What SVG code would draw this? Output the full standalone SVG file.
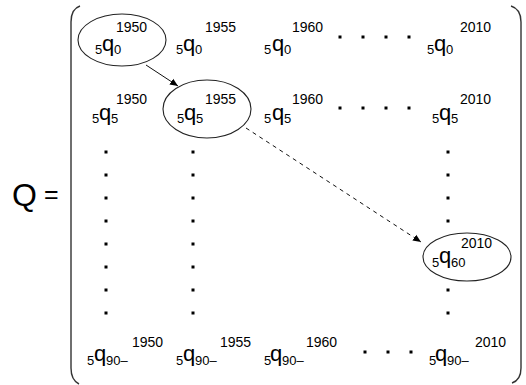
<svg xmlns="http://www.w3.org/2000/svg" width="526" height="385" viewBox="0 0 526 385">
  <style>
    text { font-family: "Liberation Sans", Arial, sans-serif; fill: #000; }
    .q { font-size: 22px; }
    .sb { font-size: 13px; }
    .sp { font-size: 14px; }
    .big { font-size: 32px; }
    .eq { font-size: 25px; }
    .ring { fill: none; stroke: #222; stroke-width: 1.1; }
    .brk { fill: none; stroke: #333; stroke-width: 1.4; }
    .edge { fill: none; stroke: #111; stroke-width: 1; }
    .dash { stroke-dasharray: 4 4; }
    .dot { fill: #000; }
  </style>
  <defs>
    <marker id="head" markerWidth="9" markerHeight="8" refX="8" refY="4" orient="auto" markerUnits="userSpaceOnUse">
      <path d="M0,0.5 L8,4 L0,7.5 z" fill="#000"/>
    </marker>
    <rect id="d" x="-1.5" y="-1.5" width="3" height="3" class="dot"/>
  </defs>

  <rect width="526" height="385" fill="#fff"/>

  <!-- Q = -->
  <text class="big" x="12" y="206">Q</text>
  <text class="eq" x="44" y="203">=</text>

  <!-- matrix brackets -->
  <path class="brk" d="M80,6 Q71,9 71,22 L71,368 Q71,380 79,384"/>
  <path class="brk" d="M511,6 Q521,9 521,22 L521,368 Q521,380 512,383"/>

  <!-- row 0 -->
  <g id="q0_1950">
    <ellipse class="ring" cx="122" cy="40" rx="44" ry="26"/>
    <text class="sb" x="95" y="54">5</text><text class="q" x="102" y="51">q</text><text class="sb" x="114" y="54">0</text><text class="sp" x="116" y="32">1950</text>
  </g>
  <g id="q0_1955">
    <text class="sb" x="176" y="54">5</text><text class="q" x="183" y="51">q</text><text class="sb" x="195" y="54">0</text><text class="sp" x="205" y="32">1955</text>
  </g>
  <g id="q0_1960">
    <text class="sb" x="264" y="54">5</text><text class="q" x="272" y="51">q</text><text class="sb" x="284" y="54">0</text><text class="sp" x="292" y="32">1960</text>
  </g>
  <g id="q0_2010">
    <text class="sb" x="427" y="54">5</text><text class="q" x="434" y="51">q</text><text class="sb" x="446" y="54">0</text><text class="sp" x="460" y="32">2010</text>
  </g>
  <g id="row0_dots">
    <use href="#d" x="340" y="37"/><use href="#d" x="363" y="37"/><use href="#d" x="386" y="37"/><use href="#d" x="409" y="37"/>
  </g>

  <!-- row 5 -->
  <g id="q5_1950">
    <text class="sb" x="92" y="123">5</text><text class="q" x="99" y="120">q</text><text class="sb" x="111" y="123">5</text><text class="sp" x="116" y="104">1950</text>
  </g>
  <g id="q5_1955">
    <ellipse class="ring" cx="207" cy="109" rx="44" ry="29"/>
    <text class="sb" x="177" y="123">5</text><text class="q" x="184" y="120">q</text><text class="sb" x="196" y="123">5</text><text class="sp" x="205" y="104">1955</text>
  </g>
  <g id="q5_1960">
    <text class="sb" x="264" y="123">5</text><text class="q" x="272" y="120">q</text><text class="sb" x="284" y="123">5</text><text class="sp" x="292" y="104">1960</text>
  </g>
  <g id="q5_2010">
    <text class="sb" x="432" y="123">5</text><text class="q" x="439" y="120">q</text><text class="sb" x="451" y="123">5</text><text class="sp" x="460" y="104">2010</text>
  </g>
  <g id="row5_dots">
    <use href="#d" x="340" y="108"/><use href="#d" x="363" y="108"/><use href="#d" x="386" y="108"/><use href="#d" x="409" y="108"/>
  </g>

  <!-- column dots -->
  <g id="col1950_dots">
    <use href="#d" x="106" y="152"/><use href="#d" x="106" y="175"/><use href="#d" x="106" y="198"/><use href="#d" x="106" y="221"/>
    <use href="#d" x="106" y="244"/><use href="#d" x="106" y="267"/><use href="#d" x="106" y="290"/><use href="#d" x="106" y="313"/>
  </g>
  <g id="col1955_dots">
    <use href="#d" x="193" y="152"/><use href="#d" x="193" y="175"/><use href="#d" x="193" y="198"/><use href="#d" x="193" y="221"/>
    <use href="#d" x="193" y="244"/><use href="#d" x="193" y="267"/><use href="#d" x="193" y="290"/><use href="#d" x="193" y="313"/>
  </g>
  <g id="col2010_dots">
    <use href="#d" x="448" y="152"/><use href="#d" x="448" y="175"/><use href="#d" x="448" y="198"/><use href="#d" x="448" y="221"/>
    <use href="#d" x="448" y="290"/><use href="#d" x="448" y="313"/>
  </g>

  <!-- row 60 -->
  <g id="q60_2010">
    <ellipse class="ring" cx="467" cy="257" rx="44" ry="24"/>
    <text class="sb" x="432" y="267">5</text><text class="q" x="439" y="263">q</text><text class="sb" x="451" y="267">60</text><text class="sp" x="461" y="248">2010</text>
  </g>

  <!-- row 90- -->
  <g id="q90_1950">
    <text class="sb" x="87" y="365">5</text><text class="q" x="94" y="361">q</text><text class="sb" x="106" y="365">90–</text><text class="sp" x="132" y="347">1950</text>
  </g>
  <g id="q90_1955">
    <text class="sb" x="176" y="365">5</text><text class="q" x="183" y="361">q</text><text class="sb" x="195" y="365">90–</text><text class="sp" x="220" y="347">1955</text>
  </g>
  <g id="q90_1960">
    <text class="sb" x="264" y="365">5</text><text class="q" x="270" y="361">q</text><text class="sb" x="282" y="365">90–</text><text class="sp" x="306" y="347">1960</text>
  </g>
  <g id="q90_2010">
    <text class="sb" x="429" y="365">5</text><text class="q" x="435" y="361">q</text><text class="sb" x="447" y="365">90–</text><text class="sp" x="475" y="347">2010</text>
  </g>
  <g id="row90_dots">
    <use href="#d" x="365" y="352"/><use href="#d" x="388" y="352"/><use href="#d" x="411" y="352"/>
  </g>

  <!-- connectors -->
  <g id="connectors">
    <line class="edge" x1="146" y1="65" x2="178" y2="86" marker-end="url(#head)"/>
    <line class="edge dash" x1="246" y1="128" x2="421" y2="242" marker-end="url(#head)"/>
  </g>
</svg>
